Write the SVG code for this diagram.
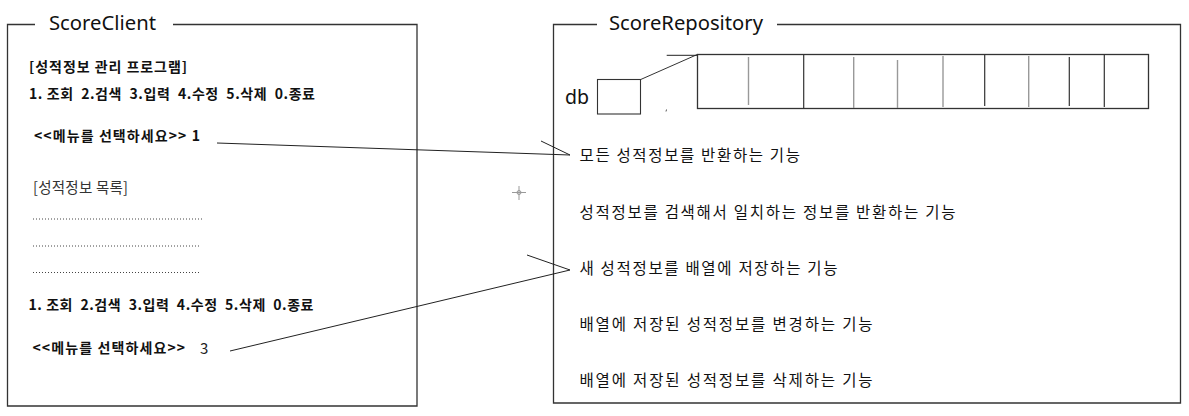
<svg xmlns="http://www.w3.org/2000/svg" width="1189" height="416" viewBox="0 0 1189 416">
<style>
.frame{fill:none;stroke:#333;stroke-width:1.3}
.title{font-family:"Noto Sans","Open Sans",sans-serif;font-size:20px;fill:#111}
.menu{font-family:"Noto Sans CJK KR","Noto Sans",sans-serif;font-size:14px;font-weight:bold;fill:#111}
.reg{font-family:"Noto Sans CJK KR","Noto Sans",sans-serif;font-size:14.5px;fill:#333}
.fn{font-family:"Noto Sans CJK KR","Noto Sans",sans-serif;font-size:15.5px;fill:#111}
.dots{stroke:#444;stroke-width:1;stroke-dasharray:1 2}
.conn{fill:none;stroke:#222;stroke-width:1}
.cell{stroke:#333;stroke-width:1.2}
.cellg{stroke:#999;stroke-width:1.4}
</style>
<rect width="1189" height="416" fill="#fff"/>

<g id="ScoreClient">
  <path class="frame" d="M35 24.5 H7.5 V406 H417 V24.5 H173"/>
  <text class="title" x="49" y="29.5" textLength="107" lengthAdjust="spacingAndGlyphs">ScoreClient</text>
  <text class="menu" x="29" y="72" textLength="158" lengthAdjust="spacing">[성적정보 관리 프로그램]</text>
  <text class="menu" x="29" y="98.5" textLength="286" lengthAdjust="spacing" xml:space="preserve">1. 조회  2.검색  3.입력  4.수정  5.삭제  0.종료</text>
  <text class="menu" x="34" y="140.5" textLength="166" lengthAdjust="spacing">&lt;&lt;메뉴를 선택하세요&gt;&gt; 1</text>
  <text class="reg" x="33" y="193" textLength="95" lengthAdjust="spacing">[성적정보 목록]</text>
  <line class="dots" x1="33" y1="219" x2="202" y2="219"/>
  <line class="dots" x1="33" y1="246" x2="199" y2="246"/>
  <line class="dots" x1="33" y1="272.5" x2="199" y2="272.5"/>
  <text class="menu" x="28.5" y="310" textLength="285" lengthAdjust="spacing" xml:space="preserve">1. 조회  2.검색  3.입력  4.수정  5.삭제  0.종료</text>
  <text class="menu" x="32.5" y="353" textLength="152.5" lengthAdjust="spacing">&lt;&lt;메뉴를 선택하세요&gt;&gt;</text>
  <text class="reg" x="200" y="353.5" style="fill:#222;font-size:15px">3</text>
</g>

<g id="ScoreRepository">
  <path class="frame" d="M597 24.5 H553.5 V403 H1180.5 V24.5 H777"/>
  <text class="title" x="609" y="29.5" textLength="154" lengthAdjust="spacingAndGlyphs">ScoreRepository</text>
  <text class="title" x="565" y="104" textLength="24" lengthAdjust="spacingAndGlyphs">db</text>
  <rect class="frame" x="597.5" y="79.5" width="43" height="34.5" style="stroke-width:1.1"/>
  <g id="array">
    <rect x="697.5" y="54.5" width="451" height="54" fill="none" stroke="#333" stroke-width="1.3"/>
    <line class="cellg" x1="748.5" y1="57" x2="748.5" y2="105"/>
    <line class="cell" x1="803.7" y1="54.5" x2="803.7" y2="108.5"/>
    <line class="cellg" x1="853.7" y1="57" x2="853.7" y2="108"/>
    <line class="cellg" x1="897.5" y1="60" x2="897.5" y2="108"/>
    <line class="cellg" x1="943" y1="56" x2="943" y2="107"/>
    <line class="cell" x1="984.7" y1="54.5" x2="984.7" y2="106"/>
    <line class="cellg" x1="1028.7" y1="56" x2="1028.7" y2="107"/>
    <line class="cell" x1="1069.3" y1="57" x2="1069.3" y2="106"/>
    <line class="cell" x1="1104.3" y1="54.5" x2="1104.3" y2="107"/>
  </g>
  <line x1="640.7" y1="79.5" x2="697.3" y2="54.5" stroke="#333" stroke-width="1"/>
  <line x1="666.7" y1="55.3" x2="697.3" y2="55.3" stroke="#222" stroke-width="1"/>
  <line x1="666.5" y1="109.5" x2="666" y2="111.5" stroke="#555" stroke-width="1"/>
  <text class="fn" x="579.5" y="161" textLength="220.5" lengthAdjust="spacing">모든 성적정보를 반환하는 기능</text>
  <text class="fn" x="579.5" y="217.5" textLength="376" lengthAdjust="spacing">성적정보를 검색해서 일치하는 정보를 반환하는 기능</text>
  <text class="fn" x="579.5" y="273.5" textLength="258" lengthAdjust="spacing">새 성적정보를 배열에 저장하는 기능</text>
  <text class="fn" x="579.5" y="329.5" textLength="293" lengthAdjust="spacing">배열에 저장된 성적정보를 변경하는 기능</text>
  <text class="fn" x="579.5" y="385.5" textLength="293" lengthAdjust="spacing">배열에 저장된 성적정보를 삭제하는 기능</text>
</g>

<g id="connectors">
  <path class="conn" d="M217 143 L570 155 M541 141 L570 155"/>
  <path class="conn" d="M230 351 L570 270 M527 255 L570 270"/>
</g>

<g id="cursor" stroke="#999" stroke-width="1" fill="none">
  <line x1="512" y1="192.5" x2="526" y2="192.5"/>
  <line x1="519" y1="186" x2="519" y2="200"/>
  <circle cx="519" cy="192.5" r="2"/>
</g>
</svg>
